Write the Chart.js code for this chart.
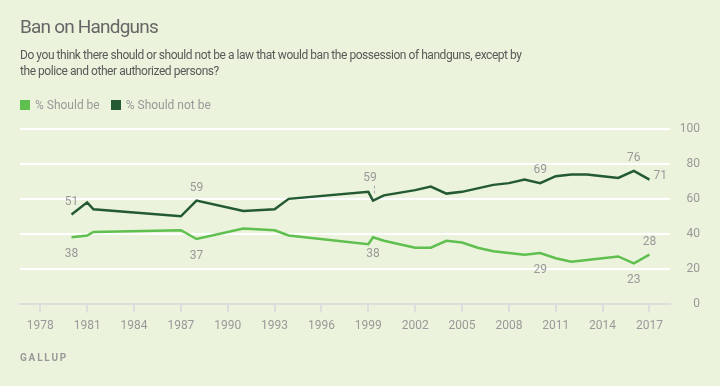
<!DOCTYPE html>
<html>
<head>
<meta charset="utf-8">
<script src="https://cdn.jsdelivr.net/npm/chart.js@4.4.1/dist/chart.umd.min.js"></script>
<style>
    html, body { margin: 0; padding: 0; }
    body { width: 720px; height: 386px; background: #ebf3dc; position: relative; overflow: hidden; font-family: Roboto, "Open Sans", sans-serif; }
    #chart { position: absolute; left: 0; top: 0; }
    .title { position: absolute; left: 20px; top: 16px; font-size: 19px; line-height: 22px; color: #666; letter-spacing: -0.8px; }
    .subtitle { position: absolute; left: 20px; top: 47px; font-size: 12px; line-height: 16px; color: #595959; letter-spacing: -0.45px; }
    .legend { position: absolute; left: 20px; top: 98px; font-size: 12px; line-height: 14px; color: #999; display: flex; align-items: center; }
    .legend .sw { width: 10px; height: 10px; margin-right: 5px; }
    .legend .item { display: flex; align-items: center; margin-right: 11px; }
    .source { position: absolute; left: 20px; top: 352px; font-size: 10px; line-height: 12px; font-weight: bold; letter-spacing: 1.8px; color: #9a9a9a; }
</style>
</head>
<body>
<canvas id="chart" width="720" height="386"></canvas>
<div class="title">Ban on Handguns</div>
<div class="subtitle">Do you think there should or should not be a law that would ban the possession of handguns, except by<br>the police and other authorized persons?</div>
<div class="legend">
    <div class="item"><div class="sw" style="background:#5fbf4f"></div>% Should be</div>
    <div class="item"><div class="sw" style="background:#235a33"></div>% Should not be</div>
</div>
<div class="source">GALLUP</div>
<script>
// survey dates (decimal years) and results
const years = [1980, 1981, 1981.4, 1987, 1988, 1991, 1993, 1993.9, 1999, 1999.3, 2000, 2002, 2003, 2004, 2005, 2006, 2007, 2008, 2009, 2010, 2011, 2012, 2013, 2014, 2015, 2016, 2017];
const shouldBe = [38, 39, 41, 42, 37, 43, 42, 39, 34, 38, 36, 32, 32, 36, 35, 32, 30, 29, 28, 29, 26, 24, 25, 26, 27, 23, 28];
const shouldNotBe = [51, 58, 54, 50, 59, 53, 54, 60, 64, 59, 62, 65, 67, 63, 64, 66, 68, 69, 71, 69, 73, 74, 74, 73, 72, 76, 71];
const xTicks = [1978, 1981, 1984, 1987, 1990, 1993, 1996, 1999, 2002, 2005, 2008, 2011, 2014, 2017];
const yTicks = [0, 20, 40, 60, 80, 100];

// which points get a value label, and where
const beLabels = [[0, 'below'], [4, 'below'], [9, 'below'], [19, 'below'], [25, 'below'], [26, 'above']];
const notBeLabels = [[0, 'above'], [4, 'above'], [9, 'leader'], [19, 'above'], [25, 'above'], [26, 'right']];

const toPoints = vals => vals.map((v, i) => ({ x: years[i], y: v }));

const valueLabels = {
    id: 'valueLabels',
    afterDatasetsDraw(chart) {
        const ctx = chart.ctx;
        ctx.save();
        ctx.font = '12px Roboto, sans-serif';
        ctx.fillStyle = '#999';
        ctx.textBaseline = 'middle';
        chart.data.datasets.forEach((ds, di) => {
            const meta = chart.getDatasetMeta(di);
            ds.valueLabels.forEach(([i, pos]) => {
                const pt = meta.data[i];
                const txt = String(ds.data[i].y);
                if (pos === 'above') {
                    ctx.textAlign = 'center';
                    ctx.fillText(txt, pt.x, pt.y - 13);
                } else if (pos === 'below') {
                    ctx.textAlign = 'center';
                    ctx.fillText(txt, pt.x, pt.y + 17);
                } else if (pos === 'right') {
                    ctx.textAlign = 'left';
                    ctx.fillText(txt, pt.x + 4, pt.y - 4);
                } else if (pos === 'leader') {
                    ctx.textAlign = 'center';
                    ctx.fillText(txt, pt.x - 3, pt.y - 23);
                    ctx.strokeStyle = '#aaa';
                    ctx.lineWidth = 1;
                    ctx.setLineDash([3, 2]);
                    ctx.beginPath();
                    ctx.moveTo(pt.x + 1.5, pt.y - 15);
                    ctx.lineTo(pt.x + 1.5, pt.y - 7);
                    ctx.stroke();
                    ctx.setLineDash([]);
                }
            });
        });
        ctx.restore();
    }
};

new Chart(document.getElementById('chart'), {
    type: 'line',
    data: {
        datasets: [
            {
                label: '% Should be',
                data: toPoints(shouldBe),
                borderColor: '#5fbf4f',
                borderWidth: 2.5,
                pointRadius: 0,
                tension: 0,
                valueLabels: beLabels
            },
            {
                label: '% Should not be',
                data: toPoints(shouldNotBe),
                borderColor: '#235a33',
                borderWidth: 2.5,
                pointRadius: 0,
                tension: 0,
                valueLabels: notBeLabels
            }
        ]
    },
    options: {
        responsive: false,
        animation: false,
        devicePixelRatio: 1,
        layout: { padding: { left: 20, right: 20, top: 129, bottom: 47 } },
        plugins: { legend: { display: false }, tooltip: { enabled: false } },
        scales: {
            x: {
                type: 'linear',
                min: 1976.7,
                max: 2018.3,
                afterBuildTicks: axis => { axis.ticks = xTicks.map(v => ({ value: v })); },
                grid: { drawOnChartArea: false, color: '#dddddd', lineWidth: 2, tickLength: 9 },
                border: { color: '#dddddd', width: 2 },
                ticks: {
                    color: '#999',
                    font: { family: 'Roboto', size: 12 },
                    padding: 6,
                    maxRotation: 0,
                    autoSkip: false,
                    callback: v => String(v)
                }
            },
            y: {
                position: 'right',
                min: 0,
                max: 100,
                afterBuildTicks: axis => { axis.ticks = yTicks.map(v => ({ value: v })); },
                grid: {
                    color: c => c.tick && c.tick.value === 0 ? 'rgba(0,0,0,0)' : '#ffffff',
                    lineWidth: 2,
                    drawTicks: false
                },
                border: { display: false },
                ticks: {
                    color: '#999',
                    font: { family: 'Roboto', size: 12 },
                    padding: 5,
                    crossAlign: 'far'
                }
            }
        }
    },
    plugins: [valueLabels]
});
</script>
</body>
</html>
